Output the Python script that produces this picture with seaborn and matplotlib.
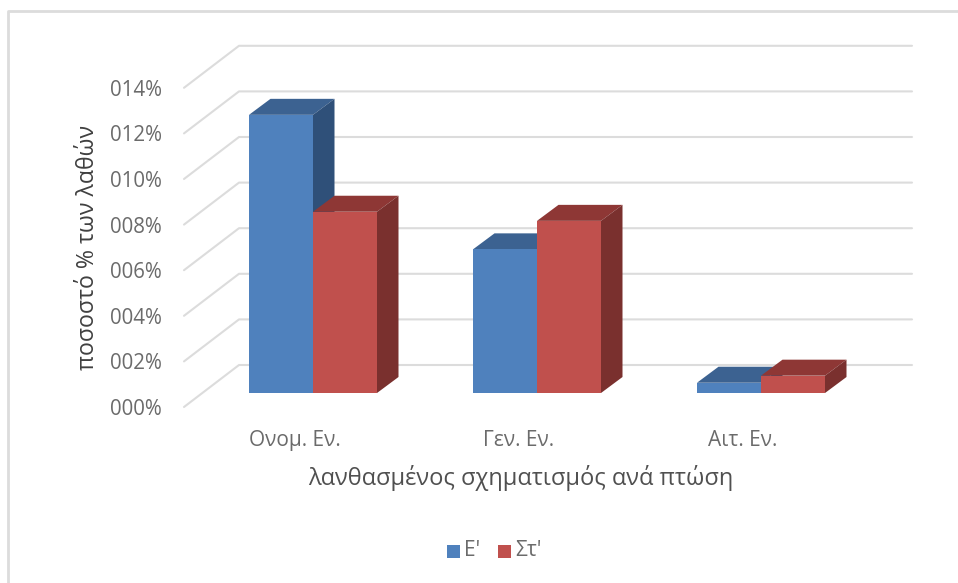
import numpy as np
import pandas as pd
import seaborn as sns
import matplotlib.pyplot as plt
from matplotlib.patches import Polygon, Rectangle
from matplotlib.transforms import ScaledTranslation

categories = ['Ονομ. Εν.', 'Γεν. Εν.', 'Αιτ. Εν.']
grade_e = [12.2, 6.3, 0.45]
grade_st = [7.95, 7.55, 0.76]
series_names = ["Ε'", "Στ'"]
tick_values = [0, 2, 4, 6, 8, 10, 12, 14]
tick_labels = ['000%', '002%', '004%', '006%', '008%', '010%', '012%', '014%']

W, H = 958, 583
DPI = 100
GREY = '#DCDCDC'

sns.set_theme(style='white')
plt.rcParams['font.family'] = ['Open Sans', 'DejaVu Sans']

df = pd.DataFrame({'cat': categories * 2,
                   'val': grade_e + grade_st,
                   'grade': [series_names[0]] * 3 + [series_names[1]] * 3})

fig = plt.figure(figsize=(W / DPI, H / DPI), dpi=DPI)
# plot area: category slots are 224px wide, 2% is 45.6px, baseline at y=393
x0, y0 = 201, 393
ax = fig.add_axes([x0 / W, 1 - y0 / H, 672 / W, 14 * 22.8 / H])
sns.barplot(data=df, x='cat', y='val', hue='grade', order=categories, hue_order=series_names,
            palette=['#4F81BD', '#C0504D'], width=128 / 224, gap=0, saturation=1,
            legend=False, ax=ax, zorder=3)
ax.set_xlim(-0.5, 2.5)
ax.set_ylim(0, 14)
sns.despine(ax=ax, left=True, bottom=True)
ax.patch.set_alpha(0)
ax.set_xlabel('')
ax.set_ylabel('')

px_x = 1 / 224
px_y = 1 / 22.8

# floor and back wall lines
for v in tick_values:
    ax.plot([-0.5 - 17 * px_x, -0.5 + 38 * px_x, -0.5 + 711 * px_x],
            [v - 14 * px_y, v + 28 * px_y, v + 28 * px_y],
            color=GREY, lw=1.5, clip_on=False, zorder=1)

# depth faces of the bars
depth_x, depth_y = 21.5 * px_x, 16 * px_y
faces = {'#4F81BD': ('#3C6291', '#2F5079'), '#C0504D': ('#8E3735', '#7A302E')}
shades = [faces['#4F81BD']] * 3 + [faces['#C0504D']] * 3
for bar, (top_col, side_col) in zip(ax.patches[:6], shades):
    left, right = bar.get_x(), bar.get_x() + bar.get_width()
    h = bar.get_height()
    ax.add_patch(Polygon([(left, h), (right, h), (right + depth_x, h + depth_y), (left + depth_x, h + depth_y)],
                         fc=top_col, ec='none', zorder=2.5, clip_on=False))
    ax.add_patch(Polygon([(right, 0), (right, h), (right + depth_x, h + depth_y), (right + depth_x, depth_y)],
                         fc=side_col, ec='none', zorder=2.5, clip_on=False))
    bar.set_edgecolor('none')

ax.set_yticks(tick_values, tick_labels, fontsize=14.8, color='#6B6B6B')
ax.set_xticks(range(3), categories, fontsize=15, color='#6B6B6B')
ax.tick_params(axis='both', length=0)
ax.tick_params(axis='y', pad=28)
ax.tick_params(axis='x', pad=26.5)
for lab in ax.get_yticklabels():
    lab.set_transform(lab.get_transform() + ScaledTranslation(0, -14 / DPI, fig.dpi_scale_trans))
for lab in ax.get_xticklabels():
    lab.set_transform(lab.get_transform() + ScaledTranslation(-18 / DPI, 0, fig.dpi_scale_trans))

fig.text(88 / W, 1 - 247 / H, 'ποσοστό % των λαθών', rotation=90, ha='center', va='center',
         fontsize=16.7, color='#404040')
fig.text(521 / W, 1 - 478 / H, 'λανθασμένος σχηματισμός ανά πτώση', ha='center', va='center',
         fontsize=17, color='#505050')

# legend
for sx, tx, col, name in [(447, 464, '#4F81BD', series_names[0]), (498, 515, '#C0504D', series_names[1])]:
    fig.add_artist(Rectangle((sx / W, 1 - 558 / H), 13 / W, 13 / H, fc=col, ec='none',
                             transform=fig.transFigure))
    fig.text(tx / W, 1 - 550 / H, name, ha='left', va='center', fontsize=15, color='#6B6B6B')

# outer chart frame, open on the right
fig.add_artist(plt.Line2D([8 / W, 8 / W, 1], [0, 1 - 11 / H, 1 - 11 / H],
                          color=GREY, lw=2, transform=fig.transFigure))

fig.savefig('out.png', dpi=DPI)
